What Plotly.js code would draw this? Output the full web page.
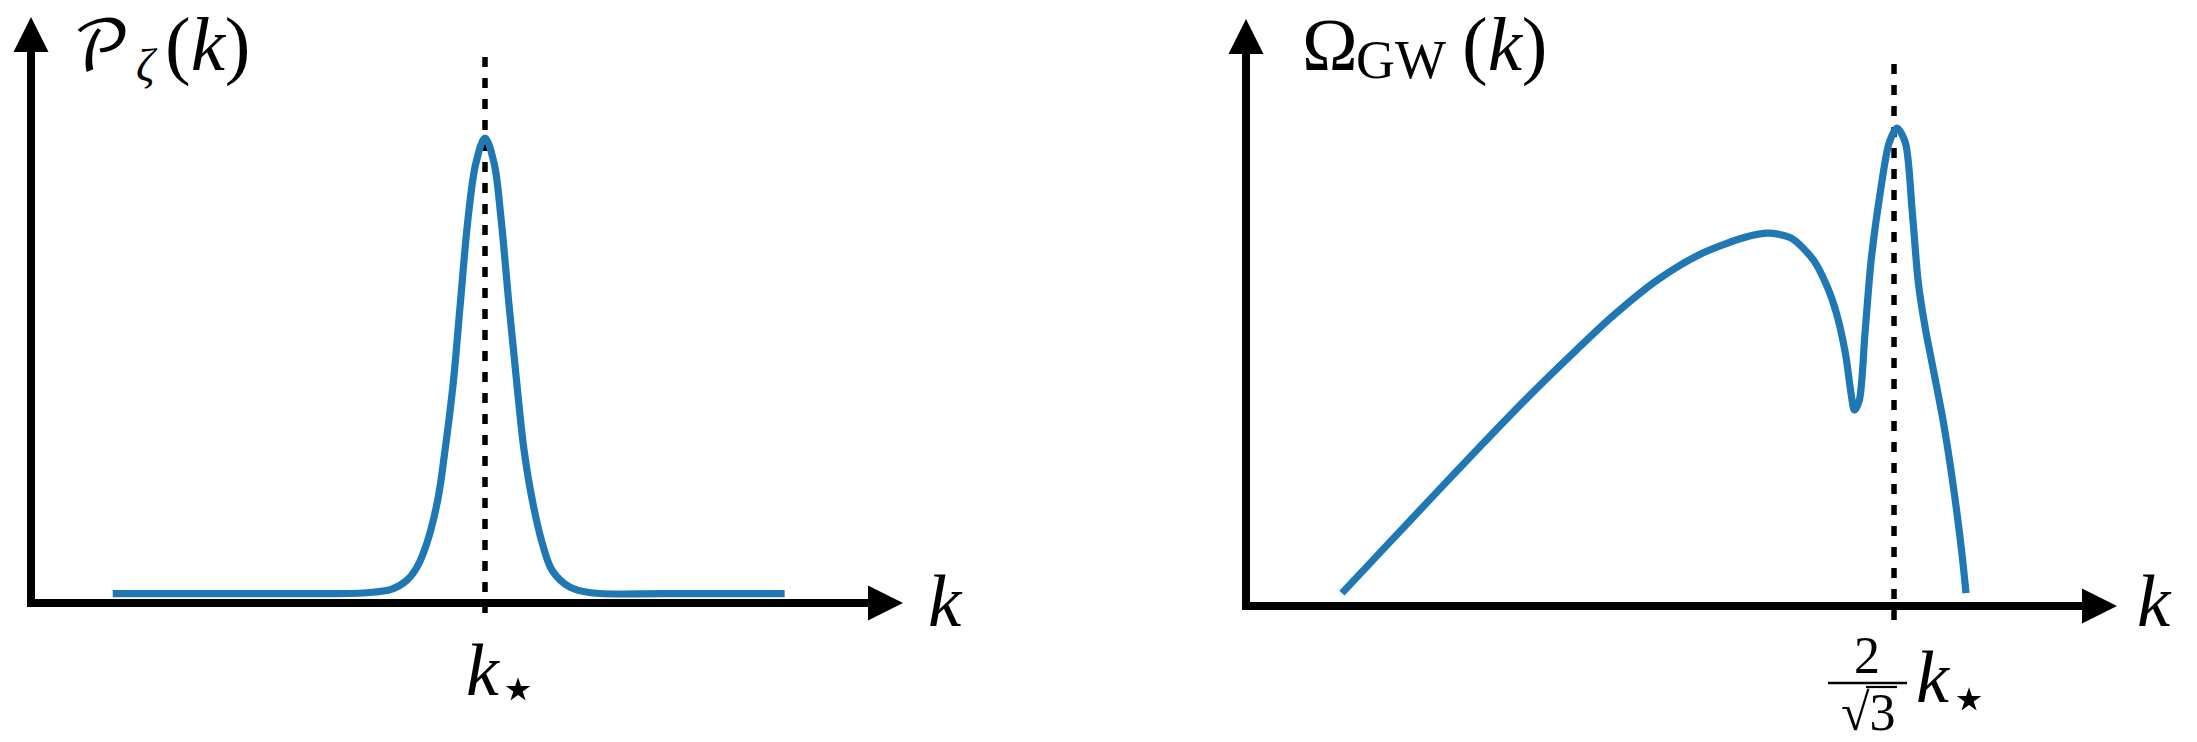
<!DOCTYPE html>
<html>
<head>
<meta charset="utf-8">
<script src="https://cdn.plot.ly/plotly-3.0.1.min.js"></script>
<style>
  html, body { margin: 0; padding: 0; background: #fff; }
  #chart { width: 2197px; height: 742px; }
</style>
</head>
<body>
<div id="chart"></div>
<script>
// Curvature power spectrum P_zeta(k): k in units of k_star, peak normalised to 1
const pzK   = [0.18, 0.60, 0.738, 0.795, 0.828, 0.850, 0.872, 0.896, 0.912, 0.930, 0.945, 0.963, 0.980, 1.0,
               1.020, 1.035, 1.053, 1.070, 1.086, 1.104, 1.126, 1.148, 1.187, 1.233, 1.40, 1.66];
const pzVal = [0.02, 0.02, 0.022, 0.030, 0.049, 0.077, 0.129, 0.222, 0.329, 0.473, 0.637, 0.830, 0.946, 1.0,
               0.946, 0.830, 0.640, 0.473, 0.329, 0.222, 0.129, 0.070, 0.034, 0.022, 0.02, 0.02];

// Induced gravitational-wave spectrum Omega_GW(k), resonant peak normalised to 1
const gwK   = [0.171, 0.255, 0.335, 0.415, 0.494, 0.574, 0.652, 0.733, 0.813, 0.891, 0.930, 0.971,
               1.011, 1.036, 1.052, 1.068, 1.078, 1.084, 1.093, 1.103, 1.114, 1.130, 1.146, 1.160,
               1.175, 1.187, 1.198, 1.210, 1.226, 1.242, 1.258, 1.275, 1.283];
const gwVal = [0.027, 0.132, 0.232, 0.331, 0.427, 0.519, 0.605, 0.682, 0.738, 0.772, 0.780, 0.770,
               0.724, 0.667, 0.613, 0.529, 0.446, 0.410, 0.431, 0.571, 0.724, 0.864, 0.969, 1.0,
               0.969, 0.828, 0.676, 0.584, 0.487, 0.389, 0.270, 0.117, 0.027];

// Reference scales marked on the k axes
const K_STAR = 1;
const K_RES = 2 / Math.sqrt(3) * K_STAR;

// Axis titles (symbol, subscript, argument) and tick labels
const titleLeftSym  = '𝒫';
const titleLeftSub  = '<i>ζ</i>';
const titleArg      = '(<i>k</i>)';
const titleRightSym = 'Ω';
const titleRightSub = 'GW';
const kLabel        = '<i>k</i>';
const starLabel     = '⋆';
const tickRightNum  = '2';
const tickRightDen  = '√3';

const W = 2197, H = 742;
const BLUE = '#1f77b4';
const FONT = 'Liberation Serif';
const MATH_FONT = 'DejaVu Math TeX Gyre';
const SYM_FONT = 'DejaVu Sans';

// pixel frames of the two panels (origin position, pixels per unit)
const frameL = {x0: 31,   sx: 454,   y0: 603, sy: 465, dom: [0, 0.5]};
const frameR = {x0: 1246, sx: 561.2, y0: 606, sy: 478, dom: [0.5, 1]};
const toX = (f, px) => (px - f.x0) / f.sx;
const toY = (f, py) => (f.y0 - py) / f.sy;
const xRange = f => [toX(f, f.dom[0] * W), toX(f, f.dom[1] * W)];
const yRange = f => [toY(f, H), toY(f, 0)];
const paperX = px => px / W;
const paperY = py => 1 - py / H;

const axisBase = {visible: false, fixedrange: true};
const dashStyle = {color: '#000', width: 5.5, dash: '10px,11px'};

const traces = [
  {x: [K_STAR, K_STAR], y: [toY(frameL, 57), toY(frameL, 621)], xaxis: 'x', yaxis: 'y',
   mode: 'lines', line: dashStyle, hoverinfo: 'skip'},
  {x: pzK, y: pzVal, xaxis: 'x', yaxis: 'y', mode: 'lines',
   line: {color: BLUE, width: 7.2, shape: 'spline', smoothing: 1}},
  {x: [K_RES, K_RES], y: [toY(frameR, 64), toY(frameR, 631)], xaxis: 'x2', yaxis: 'y2',
   mode: 'lines', line: dashStyle, hoverinfo: 'skip'},
  {x: gwK, y: gwVal, xaxis: 'x2', yaxis: 'y2', mode: 'lines',
   line: {color: BLUE, width: 7.2, shape: 'spline', smoothing: 0.8}}
];

// axis line plus a filled triangular head, in page pixels
const AXW = 8, HEAD = 35;
function axisShapes(tail, tip) {
  const dx = tip[0] - tail[0], dy = tip[1] - tail[1];
  const len = Math.hypot(dx, dy);
  const ux = dx / len, uy = dy / len;
  const bx = tip[0] - HEAD * ux, by = tip[1] - HEAD * uy;
  const nx = -uy * HEAD / 2, ny = ux * HEAD / 2;
  const pt = (x, y) => paperX(x) + ',' + paperY(y);
  return [
    {type: 'line', xref: 'paper', yref: 'paper', layer: 'below',
     x0: paperX(tail[0]), y0: paperY(tail[1]), x1: paperX(bx + ux), y1: paperY(by + uy),
     line: {color: '#000', width: AXW}},
    {type: 'path', xref: 'paper', yref: 'paper', layer: 'below',
     path: 'M' + pt(bx + nx, by + ny) + 'L' + pt(tip[0], tip[1]) + 'L' + pt(bx - nx, by - ny) + 'Z',
     fillcolor: '#000', line: {width: 0}}
  ];
}

function label(text, px, py, size, xanchor, family) {
  return {xref: 'paper', yref: 'paper', x: paperX(px), y: paperY(py), text: text,
          showarrow: false, xanchor: xanchor || 'left', yanchor: 'middle',
          font: {family: family || FONT, size: size, color: '#000'}};
}

const annotations = [
  // left axis title
  label(titleLeftSym, 70, 51, 70, 'left', MATH_FONT),
  label(titleLeftSub, 134, 65, 46),
  label(titleArg, 163, 44, 77),
  // right axis title
  label(titleRightSym, 1300, 44, 75),
  label(titleRightSub, 1354, 60, 54),
  label(titleArg, 1460, 44, 77),
  // k axis labels
  label(kLabel, 926, 600, 75),
  label(kLabel, 2135, 600, 75),
  // k_star tick on the left
  label(kLabel, 464, 670, 74),
  label(starLabel, 518, 688, 64, 'center', SYM_FONT),
  // (2/sqrt3) k_star tick on the right
  label(tickRightNum, 1867, 655, 52, 'center'),
  label(tickRightDen, 1868, 712, 52, 'center'),
  label(kLabel, 1914, 677, 74),
  label(starLabel, 1969, 698, 64, 'center', SYM_FONT)
];

const shapes = [].concat(
  axisShapes([27, 603], [903, 603]),
  axisShapes([31, 607], [31, 17]),
  axisShapes([1242, 606], [2117, 606]),
  axisShapes([1246, 610], [1246, 19]),
  [
    // fraction bar of 2/sqrt(3)
    {type: 'line', xref: 'paper', yref: 'paper', x0: paperX(1828), x1: paperX(1907),
     y0: paperY(683), y1: paperY(683), line: {color: '#000', width: 2.5}},
    // vinculum of the radical
    {type: 'line', xref: 'paper', yref: 'paper', x0: paperX(1866), x1: paperX(1897),
     y0: paperY(687), y1: paperY(687), line: {color: '#000', width: 2.2}}
  ]
);

const layout = {
  width: W, height: H,
  margin: {l: 0, r: 0, t: 0, b: 0},
  paper_bgcolor: '#fff', plot_bgcolor: 'rgba(0,0,0,0)',
  showlegend: false,
  xaxis:  Object.assign({}, axisBase, {domain: frameL.dom, range: xRange(frameL)}),
  yaxis:  Object.assign({}, axisBase, {domain: [0, 1], range: yRange(frameL)}),
  xaxis2: Object.assign({}, axisBase, {domain: frameR.dom, range: xRange(frameR), anchor: 'y2'}),
  yaxis2: Object.assign({}, axisBase, {domain: [0, 1], range: yRange(frameR), anchor: 'x2'}),
  annotations: annotations,
  shapes: shapes
};

Plotly.newPlot('chart', traces, layout, {displayModeBar: false, staticPlot: true});
</script>
</body>
</html>
